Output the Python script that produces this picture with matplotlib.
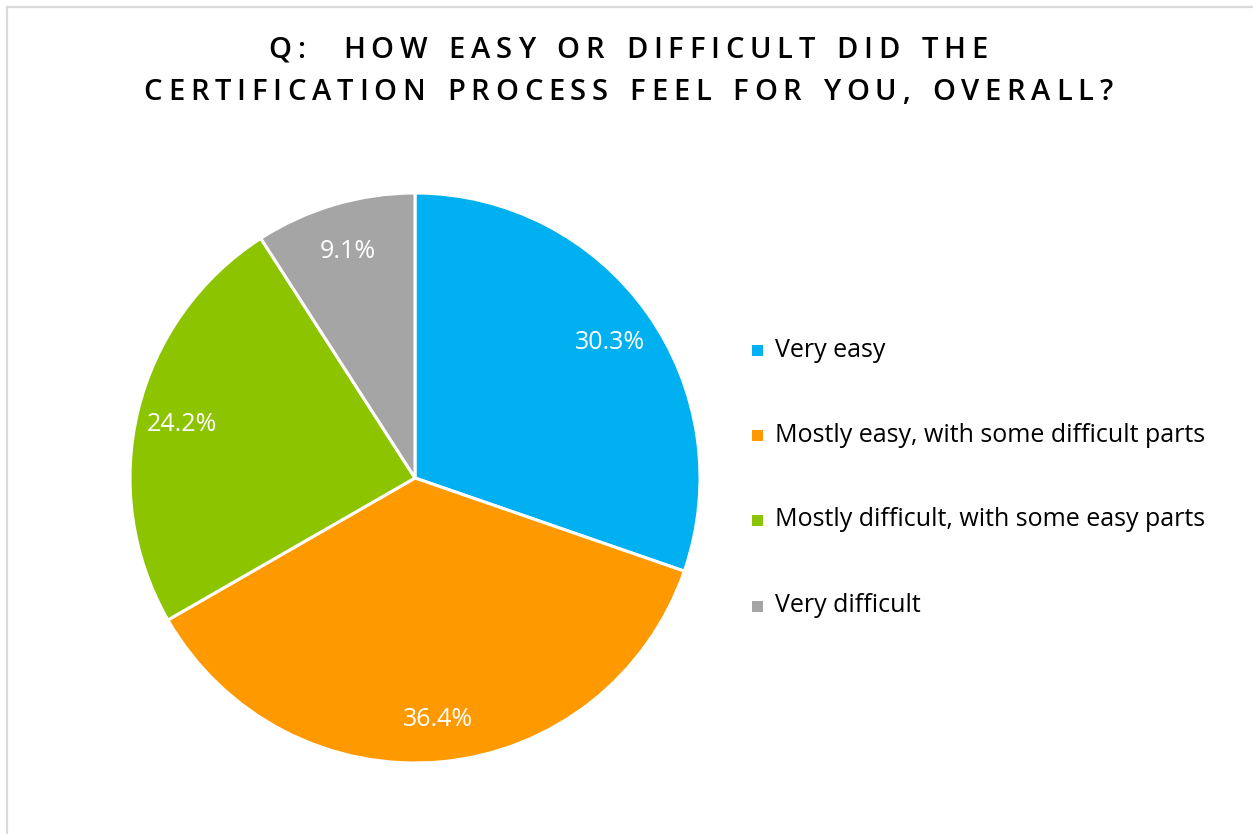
import matplotlib.pyplot as plt
from matplotlib.lines import Line2D
from matplotlib.patches import Rectangle

plt.rcParams["font.family"] = ["Open Sans", "DejaVu Sans"]

# survey answers
answers = [
    "Very easy",
    "Mostly easy, with some difficult parts",
    "Mostly difficult, with some easy parts",
    "Very difficult",
]
shares = [30.3, 36.4, 24.2, 9.1]
colors = ["#00B0F0", "#FF9900", "#8CC400", "#A5A5A5"]

title_lines = [
    "Q:  HOW EASY OR DIFFICULT DID THE",
    "CERTIFICATION PROCESS FEEL FOR YOU, OVERALL?",
]

W, H = 1253, 834
fig = plt.figure(figsize=(W / 100, H / 100), dpi=100)
fig.patch.set_facecolor("white")

# pie axes, sized in pixels
cx, cy, r = 415, 478, 285
ax = fig.add_axes([(cx - r) / W, 1 - (cy + r) / H, 2 * r / W, 2 * r / H])
wedges, texts, autotexts = ax.pie(
    shares,
    colors=colors,
    startangle=90,
    counterclock=False,
    autopct="%.1f%%",
    pctdistance=0.84,
    radius=1.0,
    wedgeprops=dict(edgecolor="white", linewidth=2.2),
    textprops=dict(color="white", fontsize=18),
)
for t in autotexts:
    t.set_va("center_baseline")
ax.set_xlim(-1, 1)
ax.set_ylim(-1, 1)
ax.set_aspect("equal")

# legend drawn by hand with square markers
leg_y = [350, 435, 520, 606]
for name, col, y in zip(answers, colors, leg_y):
    fig.patches.append(
        Rectangle((752 / W, 1 - (y + 6) / H), 11 / W, 11 / H,
                  transform=fig.transFigure, facecolor=col, edgecolor="none")
    )
    fig.text(775 / W, 1 - y / H, name, fontsize=18, color="black",
             ha="left", va="center")

# letter-spaced title
renderer = fig.canvas.get_renderer()


def spaced_text(s, x_center, y, size, tracking):
    widths = []
    for ch in s:
        t = fig.text(0, 0, ch if ch != " " else "n", fontsize=size,
                     fontweight="semibold")
        bb = t.get_window_extent(renderer)
        widths.append(bb.width * (0.55 if ch == " " else 1.0))
        t.remove()
    total = sum(widths) + tracking * (len(s) - 1)
    x = x_center - total / 2
    for ch, w in zip(s, widths):
        if ch != " ":
            fig.text(x / W, 1 - y / H, ch, fontsize=size, fontweight="semibold",
                     ha="left", va="center", color="black")
        x += w + tracking


spaced_text(title_lines[0], 628, 50, 21, 5.8)
spaced_text(title_lines[1], 628, 93, 21, 5.8)

# chart frame (top and left edges)
fig.add_artist(Line2D([7 / W, 1], [1 - 7 / H, 1 - 7 / H], color="#D9D9D9",
                      linewidth=1.6, transform=fig.transFigure))
fig.add_artist(Line2D([7 / W, 7 / W], [0, 1 - 7 / H], color="#D9D9D9",
                      linewidth=1.6, transform=fig.transFigure))

fig.savefig("out.png", dpi=100)
